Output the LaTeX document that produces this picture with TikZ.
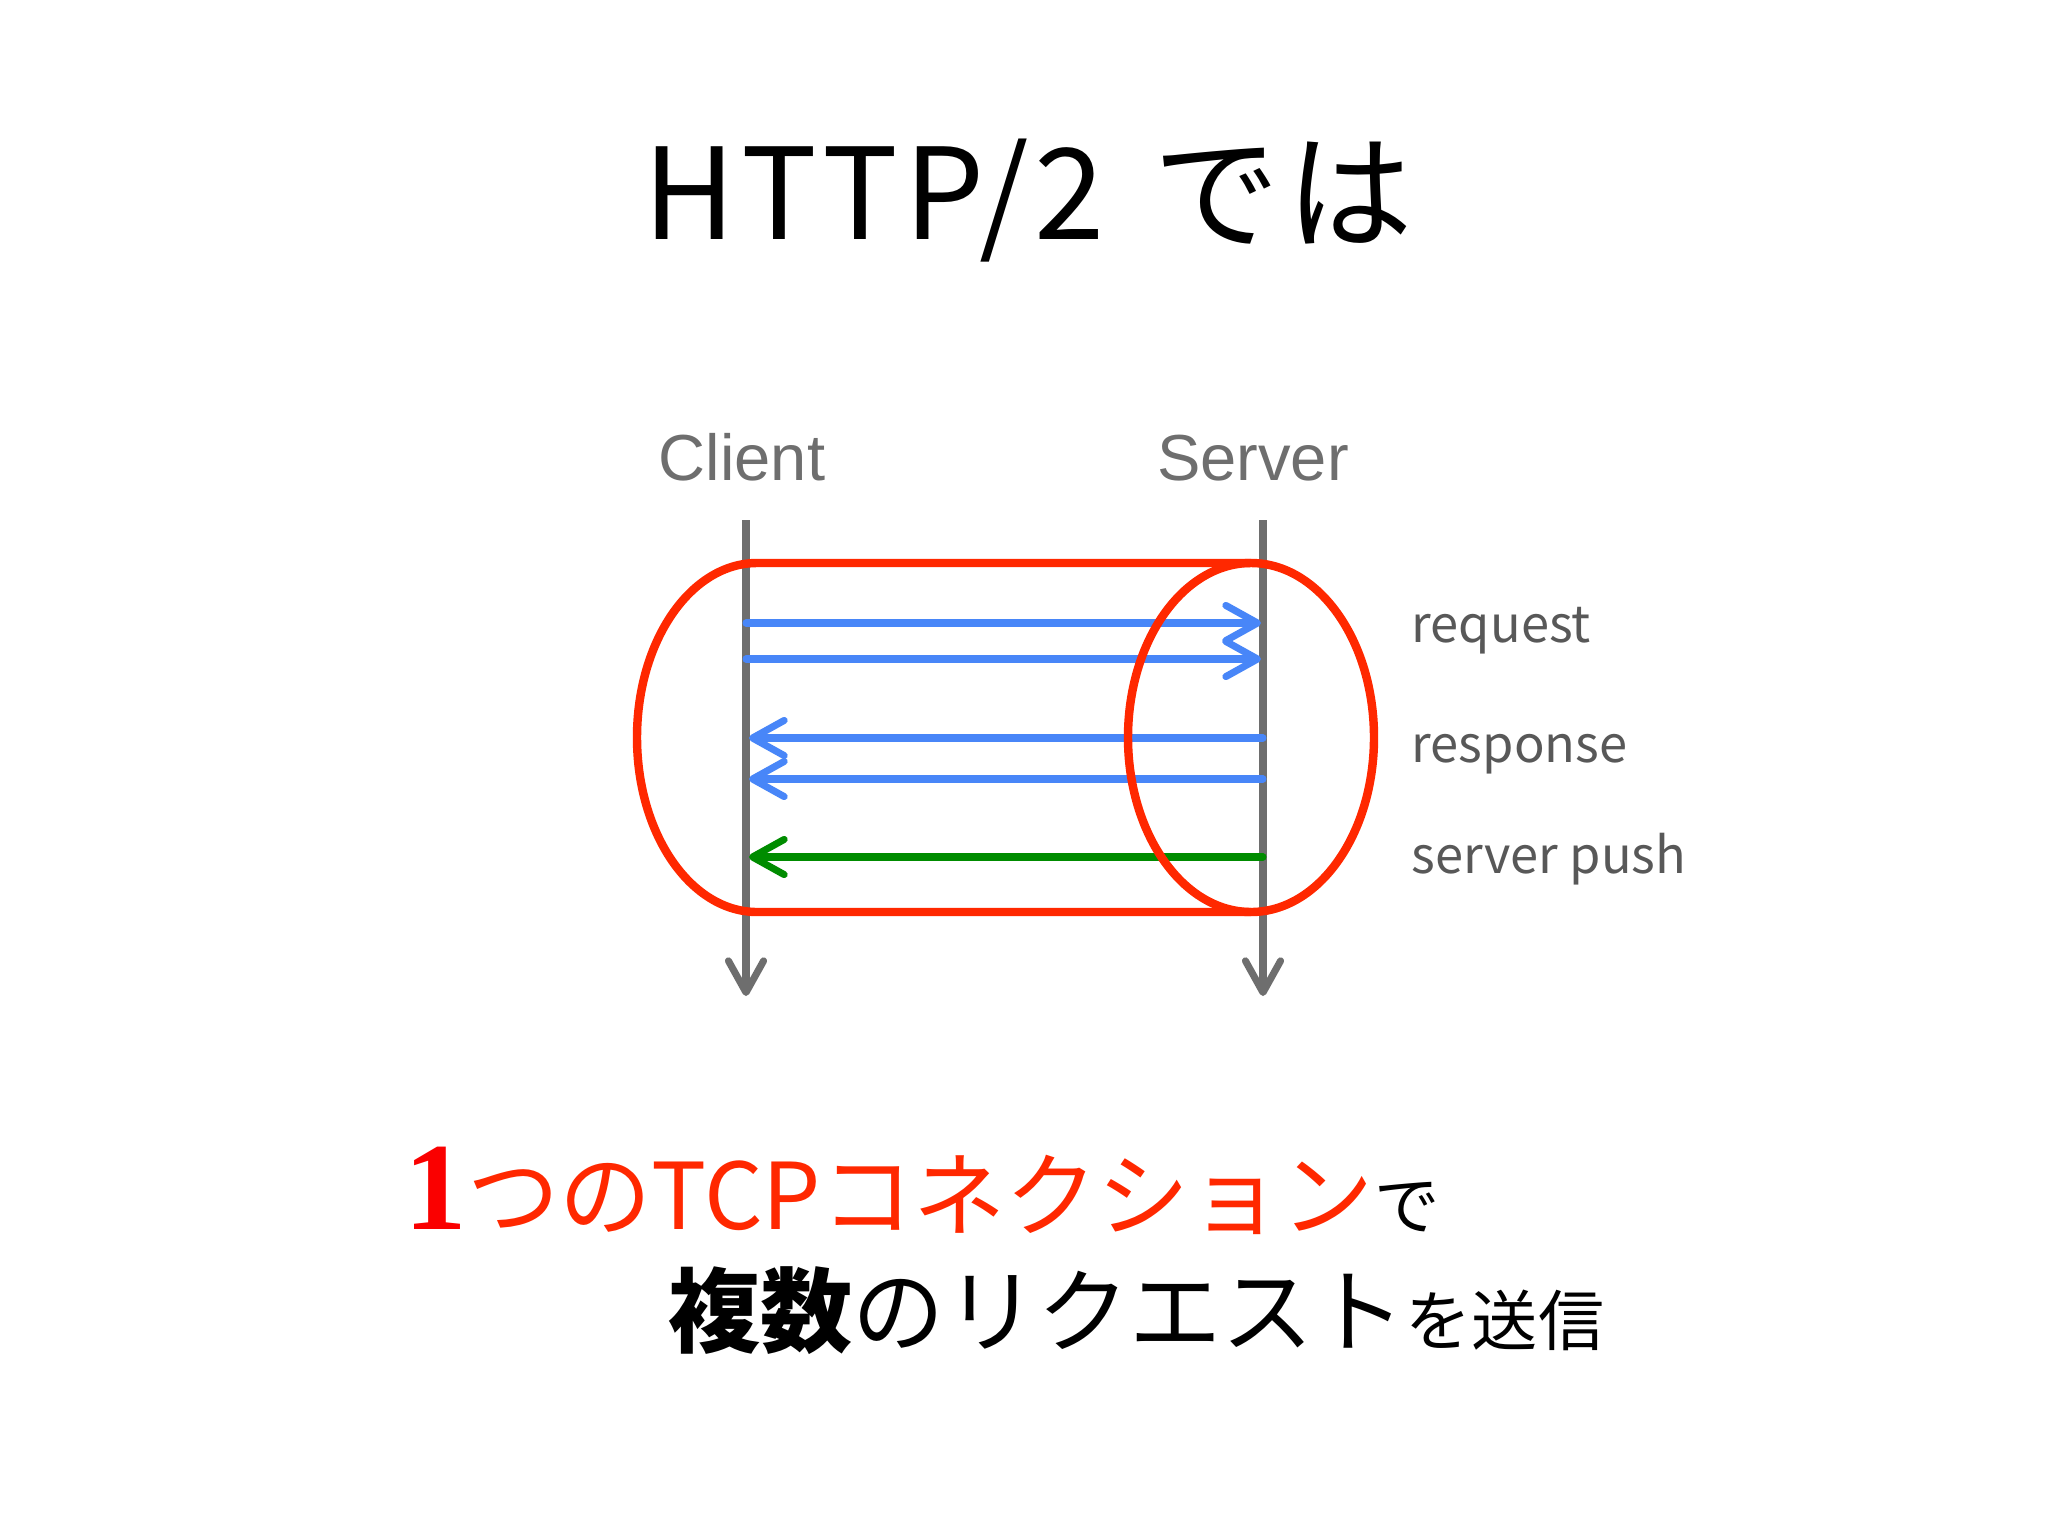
\documentclass[tikz,border=0pt]{standalone}
\usepackage{fontspec}
\setmainfont{Noto Sans CJK JP}
\newfontfamily\titlefont{Noto Sans CJK JP}[LetterSpace=4.5]
\newfontfamily\latinfont{Liberation Sans}
\newfontfamily\numfont{Liberation Serif}
\usepackage{tikz}
\usetikzlibrary{arrows.meta}
\usetikzlibrary{positioning}
\definecolor{tcpred}{RGB}{255,40,0}
\definecolor{onered}{RGB}{250,0,0}
\definecolor{reqblue}{RGB}{72,134,248}
\definecolor{pushgreen}{RGB}{0,140,0}
\definecolor{axisgray}{RGB}{110,110,110}
\definecolor{labelgray}{RGB}{88,88,88}

\begin{document}
\begin{tikzpicture}[x=0.01cm,y=-0.01cm]
\tikzstyle{text node}=[inner sep=0,anchor=base]
\tikzstyle{side node}=[inner sep=0,anchor=base west,text=labelgray,font=\fontsize{14.4}{16}\selectfont]
\tikzstyle{line node}=[inner sep=0,anchor=base west,font=\fontsize{26.2}{30}\selectfont]
\tikzset{
  axis/.style = {draw=axisgray,line width=2pt,-{Straight Barb[round,length=9pt,width=10pt]}},
  msg/.style  = {line width=2pt,line cap=round,-{Straight Barb[round,length=9pt,width=10pt]}},
  req/.style  = {msg,draw=reqblue},
  push/.style = {msg,draw=pushgreen},
  pipe/.style = {draw=tcpred,line width=2.4pt}
}
\fill[white] (0,0) rectangle (2048,1536);

    \node[text node,font=\titlefont\fontsize{36}{40}\selectfont] (title) at (1028,239) {HTTP/2\hspace{0.12em} では};
    \node[text node,text=axisgray,font=\latinfont\fontsize{18.5}{20}\selectfont] (client) at (742,480) {Client};
    \node[text node,text=axisgray,font=\latinfont\fontsize{18.5}{20}\selectfont] (server) at (1253,480) {Server};
    %%%%%%%%%%%%%%%%%%%%%%%%%%%%%%%%%%%
    \coordinate (ctop) at (746,520);
    \coordinate (cbot) at (746,996);
    \coordinate (stop) at (1263,520);
    \coordinate (sbot) at (1263,996);
    \coordinate (cq1) at (746,623);   \coordinate (sq1) at (1261,623);
    \coordinate (cq2) at (746,659);   \coordinate (sq2) at (1261,659);
    \coordinate (cr1) at (749,738);   \coordinate (sr1) at (1263,738);
    \coordinate (cr2) at (749,779);   \coordinate (sr2) at (1263,779);
    \coordinate (cp) at (749,857);    \coordinate (sp) at (1263,857);
    %%%%%%%%%%%%%%%%%%%%%%%%%%%%%%%%%%%
    \path
         (ctop) edge[axis] (cbot)
         (stop) edge[axis] (sbot)
            (cq1) edge[req] (sq1)
            (cq2) edge[req] (sq2)
            (sr1) edge[req] (cr1)
            (sr2) edge[req] (cr2)
            (sp) edge[push] (cp)
    ;
    %%%%%%%%%%%%%%%%%%%%%%%%%%%%%%%%%%%
    \draw[pipe] (1251,563) -- (757,563) arc[start angle=270,end angle=90,x radius=120,y radius=174.5] -- (1251,912);
    \draw[pipe] (1251,737.5) ellipse[x radius=123,y radius=174.5];
    %%%%%%%%%%%%%%%%%%%%%%%%%%%%%%%%%%%
    \node[side node] (lreq) at (1411,642) {request};
    \node[side node] (lres) at (1411,762) {response};
    \node[side node] (lpush) at (1411,873) {server push};
    %%%%%%%%%%%%%%%%%%%%%%%%%%%%%%%%%%%
    \node[line node] (one) at (404,1229) {{\numfont\bfseries\color{onered}\fontsize{35.5}{36}\selectfont 1}\textcolor{tcpred}{つのTCPコネクション}{\fontsize{18.6}{20}\selectfont で}};
    \node[line node] (many) at (668,1345) {{\bfseries 複数}のリクエスト{\fontsize{18.8}{20}\selectfont を送信}};
\end{tikzpicture}
\end{document}
